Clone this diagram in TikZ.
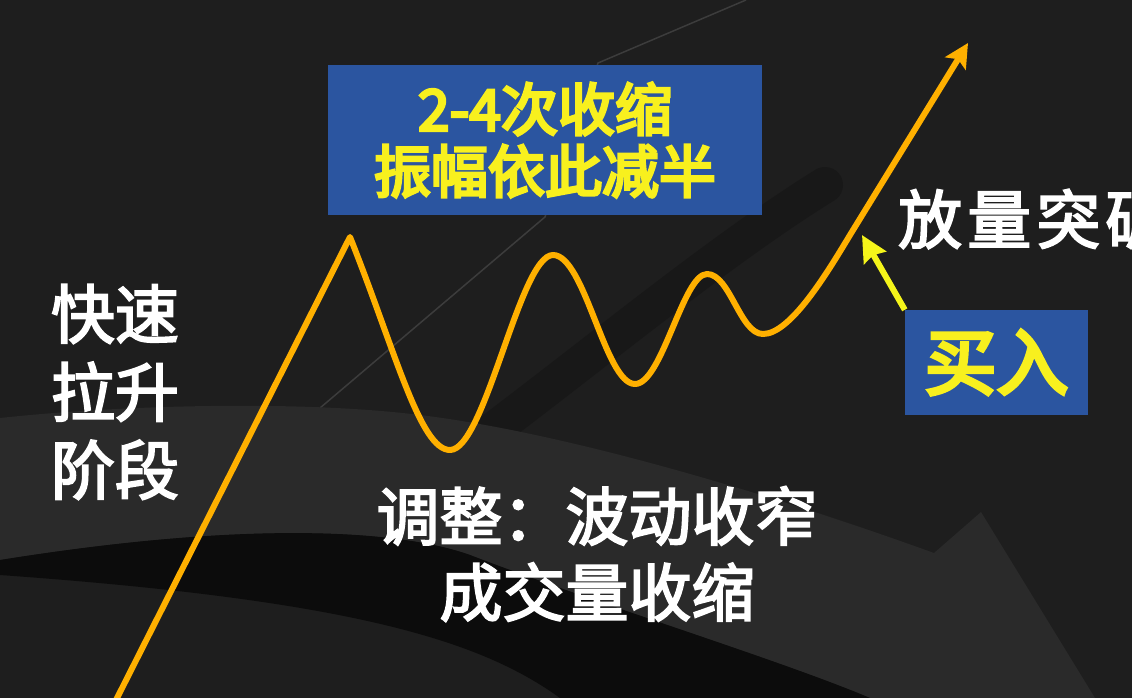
\documentclass[tikz,border=0pt]{standalone}
\usepackage{fontspec}
\newfontfamily\cjkwhite{Noto Sans CJK SC}[FakeBold=3]
\newfontfamily\cjkwide{Noto Sans CJK SC}[FakeBold=3, LetterSpace=8]
\newfontfamily\cjkyellow{Noto Sans CJK SC}[FakeBold=5]
\usetikzlibrary{arrows.meta}
\definecolor{bg}{HTML}{1E1E1E}
\definecolor{bandlight}{HTML}{2A2A2A}
\definecolor{bandblack}{HTML}{0C0C0C}
\definecolor{darkswoosh}{HTML}{181818}
\definecolor{faintline}{HTML}{3C3C3C}
\definecolor{boxblue}{HTML}{2B55A0}
\definecolor{txtyellow}{HTML}{F8F01E}
\definecolor{lineorange}{HTML}{FFB000}
\definecolor{arrowyellow}{HTML}{F5F51A}
\begin{document}
\begin{tikzpicture}[x=1pt,y=-1pt,
  bluebox/.style={fill=boxblue, draw=none, inner sep=0pt, text=txtyellow, align=center},
  whitetext/.style={text=white, inner sep=0pt, align=center},
  chartline/.style={draw=lineorange, line width=6pt, line join=round, -{Stealth[length=24pt,width=24pt,inset=5pt]}},
  buyarrow/.style={draw=arrowyellow, line width=6pt, -{Stealth[length=26pt,width=25pt,inset=3pt]}}]
\clip (0,0) rectangle (1132,698);
% background
\fill[bg] (0,0) rectangle (1132,698);
\draw[faintline, line width=1.5pt] (320,408) -- (545,217) -- (598,63) -- (746,0);
\draw[darkswoosh, line width=36pt, line cap=round] (480,440) .. controls (600,350) and (720,250) .. (825,185);
\fill[bandlight] (0,418) .. controls (120,405) and (300,400) .. (420,415)
  .. controls (560,432) and (760,490) .. (934,553) -- (981,512) -- (1095,698) -- (870,698)
  .. controls (780,660) and (600,605) .. (470,555)
  .. controls (400,530) and (250,520) .. (0,560) -- cycle;
\fill[bandblack] (0,560) .. controls (250,520) and (400,530) .. (470,555)
  .. controls (600,605) and (780,660) .. (870,698) -- (560,698)
  .. controls (480,640) and (350,600) .. (0,575) -- cycle;
% chart line
\coordinate (start) at (112,708);
\coordinate (p1) at (350,237);
\coordinate (t1) at (450,450);
\coordinate (p2) at (553,255);
\coordinate (t2) at (635,384);
\coordinate (p3) at (707,274);
\coordinate (t3) at (763,334);
\coordinate (brk) at (850,235);
\coordinate (top) at (968,43);
\draw[chartline] (start) -- (p1)
  .. controls (395,350) and (420,450) .. (t1)
  .. controls (485,450) and (520,255) .. (p2)
  .. controls (585,255) and (605,384) .. (t2)
  .. controls (662,384) and (683,274) .. (p3)
  .. controls (730,274) and (740,334) .. (t3)
  .. controls (790,334) and (826,275) .. (brk) -- (top);
% boxes
\node[bluebox, minimum width=434pt, minimum height=150pt, font=\cjkyellow\fontsize{57}{62}\selectfont] (shrink) at (545,140) {2-4次收缩\\振幅依此减半};
\node[bluebox, minimum width=183pt, minimum height=105pt, font=\cjkyellow\fontsize{72}{80}\selectfont] (buy) at (996.5,362.5) {买入};
% texts
\node[whitetext, font=\cjkwhite\fontsize{64}{78}\selectfont] (rise) at (115,392) {快速\\拉升\\阶段};
\node[whitetext, font=\cjkwhite\fontsize{63}{76}\selectfont] (adjust) at (597,554) {调整：波动收窄\\成交量收缩};
\node[whitetext, anchor=west, font=\cjkwide\fontsize{64}{70}\selectfont] (breakout) at (898,219) {放量突破};
% buy arrow
\coordinate (buytip) at (862,235);
\draw[buyarrow] (buy.north west) -- (buytip);
\end{tikzpicture}
\end{document}
